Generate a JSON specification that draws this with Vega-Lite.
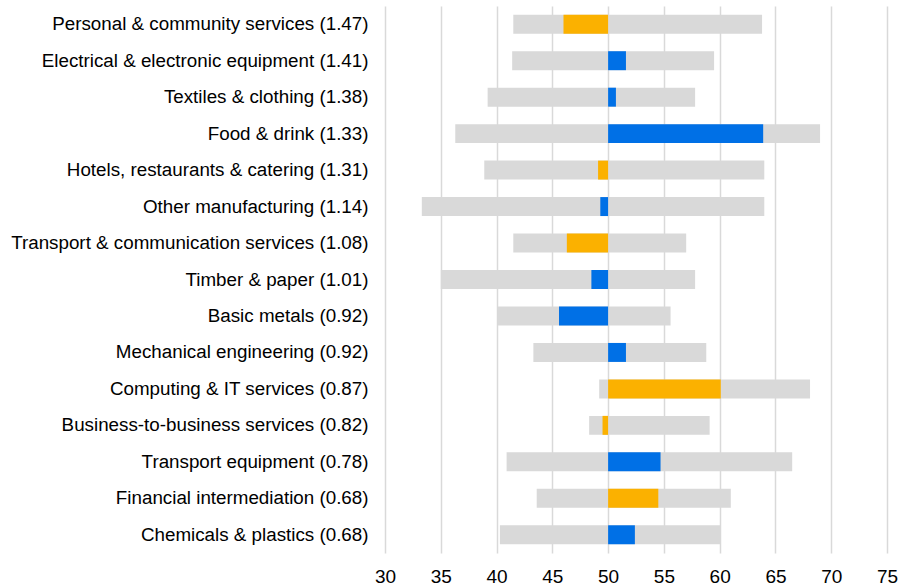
{
  "$schema": "https://vega.github.io/schema/vega-lite/v6.json",
  "autosize": {"type": "none"},
  "padding": {"left": 385, "top": 6, "right": 26, "bottom": 34},
  "width": 502,
  "height": 547,
  "background": "white",
  "config": {
    "view": {"stroke": null},
    "font": "Liberation Sans"
  },
  "data": {
    "values": [
      {"sector": "Personal & community services (1.47)", "type": "Services", "low": 41.5, "high": 63.8, "value": 46.0},
      {"sector": "Electrical & electronic equipment (1.41)", "type": "Manufacturing", "low": 41.4, "high": 59.5, "value": 51.6},
      {"sector": "Textiles & clothing (1.38)", "type": "Manufacturing", "low": 39.2, "high": 57.8, "value": 50.7},
      {"sector": "Food & drink (1.33)", "type": "Manufacturing", "low": 36.3, "high": 69.0, "value": 63.9},
      {"sector": "Hotels, restaurants & catering (1.31)", "type": "Services", "low": 38.9, "high": 64.0, "value": 49.1},
      {"sector": "Other manufacturing (1.14)", "type": "Manufacturing", "low": 33.3, "high": 64.0, "value": 49.3},
      {"sector": "Transport & communication services (1.08)", "type": "Services", "low": 41.5, "high": 57.0, "value": 46.3},
      {"sector": "Timber & paper (1.01)", "type": "Manufacturing", "low": 35.0, "high": 57.8, "value": 48.5},
      {"sector": "Basic metals (0.92)", "type": "Manufacturing", "low": 40.1, "high": 55.6, "value": 45.6},
      {"sector": "Mechanical engineering (0.92)", "type": "Manufacturing", "low": 43.3, "high": 58.8, "value": 51.6},
      {"sector": "Computing & IT services (0.87)", "type": "Services", "low": 49.2, "high": 68.1, "value": 60.1},
      {"sector": "Business-to-business services (0.82)", "type": "Services", "low": 48.3, "high": 59.1, "value": 49.5},
      {"sector": "Transport equipment (0.78)", "type": "Manufacturing", "low": 40.9, "high": 66.5, "value": 54.7},
      {"sector": "Financial intermediation (0.68)", "type": "Services", "low": 43.6, "high": 61.0, "value": 54.5},
      {"sector": "Chemicals & plastics (0.68)", "type": "Manufacturing", "low": 40.3, "high": 60.1, "value": 52.4}
    ]
  },
  "encoding": {
    "y": {
      "field": "sector",
      "type": "nominal",
      "sort": null,
      "title": null,
      "scale": {"paddingInner": 0.48, "paddingOuter": 0.24},
      "axis": {
        "domain": false,
        "ticks": false,
        "grid": false,
        "labelFont": "Liberation Sans",
        "labelFontSize": 18.8,
        "labelColor": "#000000",
        "labelPadding": 17,
        "labelLimit": 400
      }
    }
  },
  "layer": [
    {
      "mark": {"type": "bar", "color": "#D9D9D9"},
      "encoding": {
        "x": {
          "field": "low",
          "type": "quantitative",
          "title": null,
          "scale": {"domain": [30, 75], "nice": false, "zero": false},
          "axis": {
            "values": [30, 35, 40, 45, 50, 55, 60, 65, 70, 75],
            "domain": false,
            "ticks": false,
            "grid": true,
            "gridColor": "#D9D9D9",
            "gridWidth": 1.5,
            "labelFont": "Liberation Sans",
            "labelFontSize": 19,
            "labelColor": "#000000",
            "labelPadding": 14,
            "labelFlush": false,
            "labelOverlap": false
          }
        },
        "x2": {"field": "high"}
      }
    },
    {
      "mark": {"type": "bar"},
      "encoding": {
        "x": {"field": "value", "type": "quantitative"},
        "x2": {"datum": 50},
        "color": {
          "field": "type",
          "type": "nominal",
          "scale": {"domain": ["Services", "Manufacturing"], "range": ["#FBB100", "#0070E6"]},
          "legend": null
        }
      }
    }
  ]
}
